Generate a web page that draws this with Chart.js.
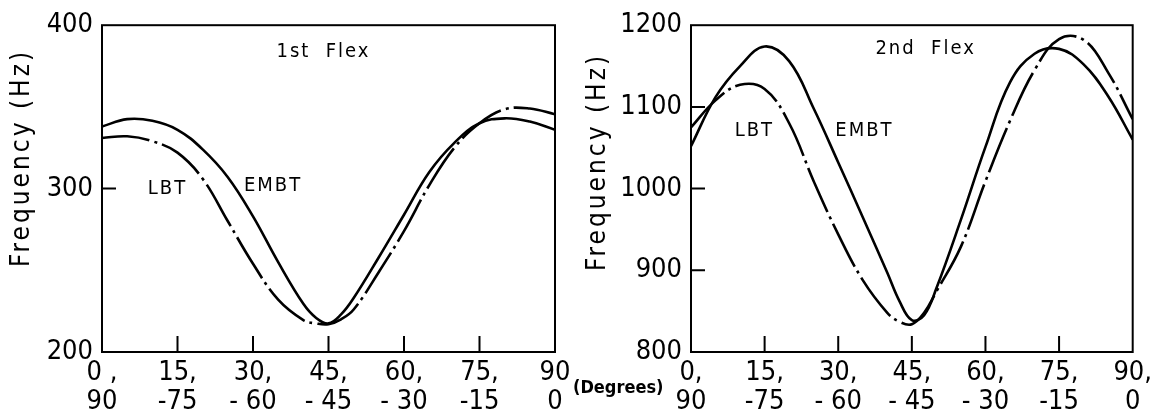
<!DOCTYPE html>
<html>
<head>
<meta charset="utf-8">
<script src="https://cdn.jsdelivr.net/npm/chart.js@4.4.0/dist/chart.umd.min.js"></script>
<style>
  body { margin: 0; background: #fff; }
  #wrap { position: relative; width: 1159px; height: 416px; }
  canvas { position: absolute; top: 0; }
  #c1 { left: 0; }
  #c2 { left: 580px; }
  #deg { position: absolute; left: 573px; top: 376px; font: bold 18px 'DejaVu Sans Condensed', 'DejaVu Sans', sans-serif; }
</style>
</head>
<body>
<div id="wrap">
  <canvas id="c1" width="580" height="416"></canvas>
  <canvas id="c2" width="579" height="416"></canvas>
  <div id="deg">(Degrees)</div>
</div>
<script>
// ply angle (degrees); extra readings around the minimum
const degrees = [0, 5, 10, 15, 20, 25, 30, 35, 40, 42.5, 45, 47.5, 50, 55, 60, 65, 70, 75, 80, 85, 90];

// 1st flexural frequency (Hz)
const flex1Embt = [338, 342.5, 341.5, 336, 324, 307, 283, 255, 229.5, 221, 217.5, 223, 233, 258, 284, 310, 328, 340, 343, 341, 336];
const flex1Lbt  = [331, 332, 329, 322, 306, 280, 254, 232, 219.5, 217.5, 217, 220, 226, 249, 274, 302, 325, 340, 348.5, 349, 345.5];

// 2nd flexural frequency (Hz)
const flex2Embt = [1052, 1112, 1150, 1174, 1156, 1098, 1032, 965, 897, 862, 839, 845, 878, 962, 1051, 1130, 1165, 1171, 1152, 1113, 1060];
const flex2Lbt  = [1075, 1108, 1127, 1122, 1080, 1009, 944, 888, 848, 837, 834, 848, 874, 929, 1009, 1083, 1145, 1183, 1182, 1142, 1085];

// two-line x tick labels
const tickTop1 = ['0 ,', '15,', '30,', '45,', '60,', '75,', '90'];
const tickTop2 = ['0,', '15,', '30,', '45,', '60,', '75,', '90,'];
const tickBottom = ['90', '-75', '- 60', '- 45', '- 30', '-15', '0'];

const FONT = "'Liberation Sans Narrow', 'DejaVu Sans Condensed', 'DejaVu Sans', sans-serif";
const NOTE_FONT = "'DejaVu Sans Condensed', 'DejaVu Sans', sans-serif";

const framePlugin = {
  id: 'frame',
  afterDraw(chart, args, opts) {
    const { ctx, chartArea: a, scales: { x, y } } = chart;
    ctx.save();
    ctx.strokeStyle = '#000';
    ctx.lineWidth = 2;
    ctx.strokeRect(a.left, a.top, a.right - a.left, a.bottom - a.top);
    // inward tick marks
    ctx.beginPath();
    x.ticks.forEach(t => {
      if (t.value <= x.min || t.value >= x.max) return;
      const px = x.getPixelForValue(t.value);
      ctx.moveTo(px, a.bottom);
      ctx.lineTo(px, a.bottom - 16);
    });
    y.ticks.forEach(t => {
      if (t.value <= y.min || t.value >= y.max) return;
      const py = y.getPixelForValue(t.value);
      ctx.moveTo(a.left, py);
      ctx.lineTo(a.left + 14, py);
    });
    ctx.stroke();

    ctx.fillStyle = '#000';
    ctx.textBaseline = 'middle';
    opts.notes.forEach(n => {
      ctx.font = '20px ' + NOTE_FONT;
      ctx.letterSpacing = '2px';
      ctx.textAlign = n.align;
      ctx.fillText(n.text, x.getPixelForValue(n.x), y.getPixelForValue(n.y));
    });

    // y axis title
    ctx.font = '26px ' + NOTE_FONT;
    ctx.letterSpacing = '3px';
    ctx.textAlign = 'center';
    ctx.translate(opts.titleX, opts.titleY);
    ctx.rotate(-Math.PI / 2);
    ctx.fillText('Frequency (Hz)', 0, 0);
    ctx.restore();
  }
};

function makeChart(id, embt, lbt, yMin, yMax, tickTop, cfg) {
  return new Chart(document.getElementById(id), {
    type: 'line',
    data: {
      datasets: [
        {
          label: 'EMBT',
          data: degrees.map((d, i) => ({ x: d, y: embt[i] })),
          borderColor: '#000',
          borderWidth: 2.6,
          pointRadius: 0,
          tension: 0.4
        },
        {
          label: 'LBT',
          data: degrees.map((d, i) => ({ x: d, y: lbt[i] })),
          borderColor: '#000',
          borderWidth: 2.6,
          borderDash: [48, 5, 3, 5],
          pointRadius: 0,
          tension: 0.4
        }
      ]
    },
    options: {
      responsive: false,
      animation: false,
      events: [],
      layout: { padding: { top: cfg.top, right: cfg.right, left: 0, bottom: 0 } },
      scales: {
        x: {
          type: 'linear',
          min: 0,
          max: 90,
          grid: { display: false, drawTicks: false },
          border: { display: false },
          afterFit: s => { s.height = 64; },
          ticks: {
            stepSize: 15,
            autoSkip: false,
            maxRotation: 0,
            padding: 7,
            color: '#000',
            font: { family: FONT, size: 27, lineHeight: 1.07 },
            callback: v => [tickTop[v / 15], tickBottom[v / 15]]
          }
        },
        y: {
          min: yMin,
          max: yMax,
          grid: { display: false, drawTicks: false },
          border: { display: false },
          afterFit: s => { s.width = cfg.yWidth; },
          ticks: {
            stepSize: 100,
            padding: 9,
            color: '#000',
            font: { family: FONT, size: 27 },
            callback: v => String(v)
          }
        }
      },
      plugins: {
        legend: { display: false },
        tooltip: { enabled: false },
        frame: { notes: cfg.notes, titleX: cfg.titleX, titleY: cfg.titleY }
      }
    },
    plugins: [framePlugin]
  });
}

makeChart('c1', flex1Embt, flex1Lbt, 200, 400, tickTop1, {
  top: 22, right: 25, yWidth: 102, titleX: 22, titleY: 158,
  notes: [
    { text: '1st  Flex', x: 44, y: 384, align: 'center' },
    { text: 'LBT', x: 9.1, y: 300, align: 'left' },
    { text: 'EMBT', x: 28.2, y: 302, align: 'left' }
  ]
});

makeChart('c2', flex2Embt, flex2Lbt, 800, 1200, tickTop2, {
  top: 24, right: 22, yWidth: 111, titleX: 18, titleY: 162,
  notes: [
    { text: '2nd  Flex', x: 47.8, y: 1171, align: 'center' },
    { text: 'LBT', x: 8.9, y: 1071, align: 'left' },
    { text: 'EMBT', x: 29.4, y: 1071, align: 'left' }
  ]
});
</script>
</body>
</html>
